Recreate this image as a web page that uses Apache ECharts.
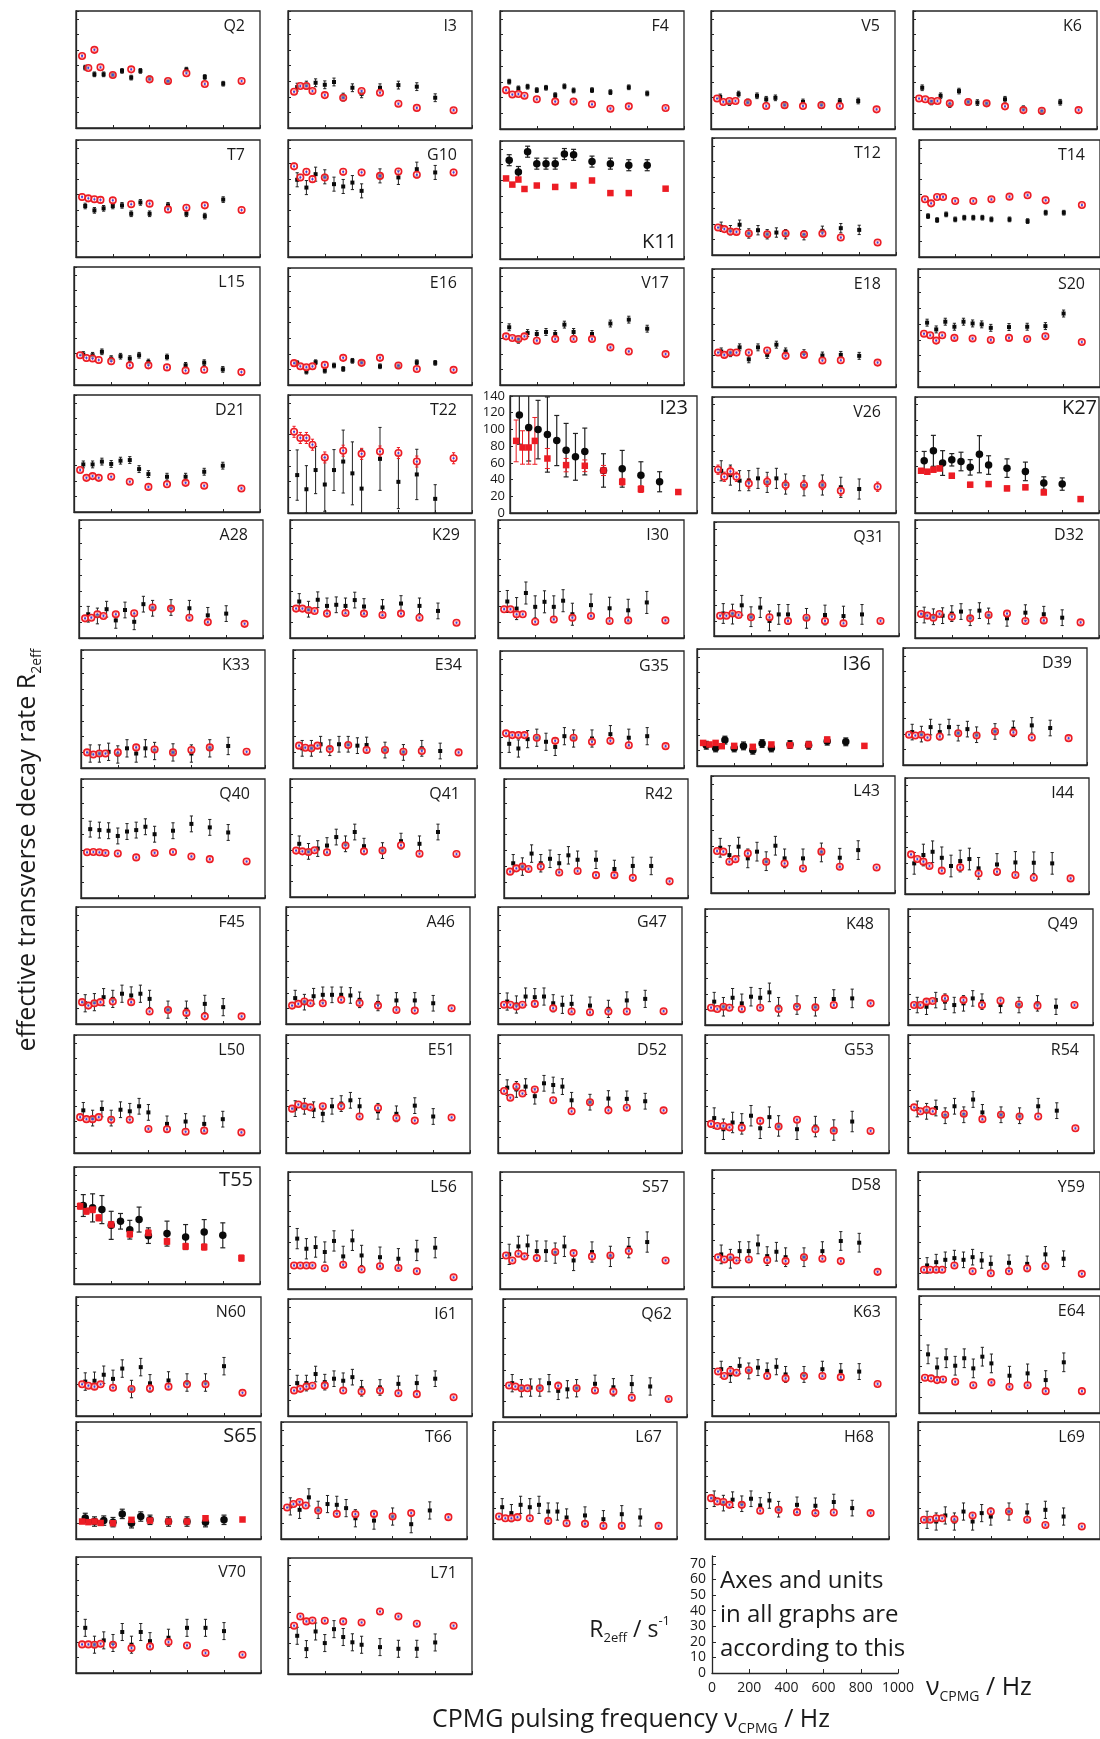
<!DOCTYPE html>
<html><head><meta charset="utf-8">
<script src="https://cdn.jsdelivr.net/npm/echarts@6/dist/echarts.min.js"></script>
<style>html,body{margin:0;padding:0;background:#fff}#c{width:1100px;height:1739px}</style>
</head><body><div id="c"></div>
<script>
// ---------------- DATA ----------------
const freqBlack = [50,100,150,200,250,300,350,400,500,600,700,800];
const freqRed   = [33,67,100,133,200,300,400,500,600,700,900];
const residues = ['Q2','I3','F4','V5','K6','T7','G10','K11','T12','T14','L15','E16','V17','E18','S20',
 'D21','T22','I23','V26','K27','A28','K29','I30','Q31','D32','K33','E34','G35','I36','D39',
 'Q40','Q41','R42','L43','I44','F45','A46','G47','K48','Q49','L50','E51','D52','G53','R54',
 'T55','L56','S57','D58','Y59','N60','I61','Q62','K63','E64','S65','T66','L67','H68','L69','V70','L71'];
const boldResidues = ['K11','I23','K27','I36','T55','S65'];
const blackR2 = [
 [38.7,34.4,34.4,34.0,36.6,32.3,36.6,31.8,29.7,37.4,32.7,28.4],
 [26.2,27.5,29.0,27.7,29.5,19.8,25.8,21.9,25.8,27.5,26.5,19.4],
 [30.1,25.8,26.9,24.7,26.2,21.5,27.1,24.5,24.7,23.4,26.5,22.6],
 [20.4,16.8,22.2,17.2,21.1,18.9,19.8,15.5,17.2,15.5,17.6,17.8],
 [26.2,17.2,21.1,15.5,24.1,17.2,16.8,16.1,18.9,12.9,11.2,17.0],
 [32.7,29.9,31.2,32.7,33.1,27.7,35.0,27.7,33.1,27.7,26.2,36.8],
 [49.5,44.5,53.1,51.4,46.7,45.2,47.7,42.4,52.0,51.0,56.3,54.2],
 [62.8,55.3,68.2,60.6,60.6,60.6,66.7,66.2,61.9,60.6,59.6,59.6],
 [18.1,15.9,19.4,13.8,15.9,13.3,14.4,13.3,12.7,15.5,17.2,16.1],
 [26.2,23.7,27.3,24.1,25.2,25.2,25.2,24.1,24.1,23.0,28.4,28.4],
 [19.4,18.9,21.1,16.8,18.3,16.8,18.9,14.6,17.8,12.5,14.2,9.9],
 [14.0,8.6,14.6,9.2,12.5,10.3,15.5,14.6,12.0,12.0,14.6,14.2],
 [37.0,29.0,33.3,32.7,34.0,32.7,38.7,34.0,32.7,39.4,41.9,36.1],
 [22.6,21.5,25.2,17.6,25.2,20.4,26.9,22.6,21.5,20.0,20.4,19.8],
 [40.9,36.6,41.5,38.3,41.5,40.4,39.8,37.6,38.1,38.3,38.7,46.7],
 [30.5,30.5,32.3,30.8,32.9,33.3,27.5,24.3,22.6,22.6,25.8,29.7],
 [24.1,15.1,27.3,18.1,27.3,32.7,25.2,15.5,34.4,19.8,24.5,9.0],
 [117.3,102.2,99.8,93.9,86.7,75.2,67.2,73.6,50.9,52.9,45.3,37.4],
 [27.3,24.5,20.9,20.9,22.4,19.8,22.4,18.7,17.6,18.1,16.6,15.5],
 [33.8,40.2,32.3,34.4,33.3,29.5,38.0,31.0,29.0,26.9,19.4,18.7],
 [15.1,14.0,18.3,11.2,17.8,10.3,21.5,18.9,19.4,18.9,14.4,15.5],
 [23.2,18.3,24.3,20.4,21.1,20.4,24.1,20.0,19.4,21.9,20.4,17.2],
 [23.2,18.7,28.6,19.8,23.0,19.8,23.7,15.1,20.9,18.9,17.6,22.6],
 [14.8,14.4,20.2,12.7,18.7,9.9,14.2,14.2,11.6,13.8,13.1,14.2],
 [14.6,13.5,14.2,15.5,16.8,12.9,17.4,14.0,12.5,16.1,15.1,12.9],
 [9.2,9.2,10.3,8.6,12.5,9.2,12.5,10.8,9.9,9.2,12.5,14.0],
 [12.5,12.5,15.1,12.9,15.1,15.1,14.2,14.6,11.4,9.9,12.5,10.8],
 [15.5,12.5,18.5,19.4,16.8,13.5,20.4,18.9,18.9,21.7,19.4,20.4],
 [13.3,11.6,16.6,11.6,12.9,10.1,14.4,11.6,13.8,13.3,15.9,15.5],
 [21.1,19.8,24.3,21.1,24.3,20.4,23.0,19.4,21.5,23.2,25.4,23.7],
 [43.4,42.8,42.4,39.1,41.9,42.8,44.9,40.2,42.4,46.7,44.5,41.3],
 [33.8,29.0,30.8,32.7,38.1,33.8,41.3,32.3,29.5,35.5,33.8,41.3],
 [21.9,19.8,28.0,21.9,24.7,21.9,26.9,24.1,24.1,18.3,20.2,20.2],
 [29.0,24.3,29.7,22.2,26.5,20.4,30.3,22.2,22.2,26.0,22.6,27.5],
 [19.8,25.2,27.3,23.4,18.1,21.3,22.6,16.6,19.1,20.4,20.2,19.8],
 [13.3,14.0,17.2,16.1,19.4,18.3,19.4,16.1,9.2,9.2,12.9,10.8],
 [16.6,14.0,17.8,18.7,18.7,18.7,18.3,15.5,13.5,15.1,15.1,13.3],
 [14.4,12.5,17.6,17.2,17.6,13.3,12.3,12.9,11.8,9.7,15.1,16.1],
 [15.1,11.8,17.6,14.0,18.3,17.6,21.1,11.8,12.9,11.8,16.8,17.2],
 [12.9,11.8,16.1,15.1,12.9,14.0,17.2,15.1,12.9,12.9,14.0,11.8],
 [27.1,22.2,28.0,22.2,27.5,26.5,29.7,25.8,18.5,20.0,18.5,21.5],
 [28.2,29.7,27.5,24.9,29.7,31.4,33.5,29.7,26.5,24.9,30.1,23.2],
 [41.5,40.4,42.2,36.1,44.3,43.2,42.2,33.5,32.3,34.6,34.4,32.9],
 [22.2,15.1,19.4,18.5,23.7,15.7,22.8,17.2,15.1,16.8,14.6,20.0],
 [28.0,26.5,28.6,23.7,29.7,24.3,34.0,25.8,24.3,23.7,29.7,26.9],
 [50.3,48.8,47.7,37.6,40.2,34.8,41.3,31.0,32.3,30.1,33.3,31.2],
 [32.3,25.8,26.9,23.7,30.8,20.9,31.2,21.5,20.4,19.4,24.7,26.5],
 [22.2,27.3,28.0,24.3,24.3,23.0,27.3,18.3,23.7,20.9,26.5,30.1],
 [20.9,18.1,23.0,23.0,27.3,19.8,22.6,19.1,19.1,23.0,29.5,28.4],
 [15.1,17.2,18.7,19.8,18.7,20.4,18.3,16.1,16.8,16.1,22.2,19.4],
 [21.7,22.2,26.0,23.4,29.9,17.0,30.8,20.6,22.4,21.1,21.1,31.4],
 [21.1,21.1,26.9,21.7,23.9,22.6,24.9,17.8,18.3,20.6,21.1,23.9],
 [21.5,18.3,18.7,18.7,21.5,16.6,17.6,18.3,21.1,18.9,20.9,19.4],
 [29.5,26.2,31.6,28.4,30.5,28.4,31.0,26.2,26.2,29.5,28.0,28.0],
 [37.6,29.2,35.1,30.3,35.1,28.6,36.1,31.8,23.9,25.4,21.1,32.5],
 [13.5,11.2,11.8,10.8,16.1,10.1,14.4,12.3,11.2,11.2,10.8,12.3],
 [20.9,18.7,26.7,18.7,22.4,21.9,19.8,13.3,11.8,14.4,9.5,18.3],
 [20.4,16.6,21.9,20.4,21.9,17.6,17.6,13.8,15.1,12.7,15.9,13.8],
 [25.8,23.0,25.2,22.6,25.8,21.5,24.7,19.1,21.9,21.3,23.7,19.8],
 [12.3,11.2,15.1,11.2,17.6,11.2,16.6,14.4,17.6,17.0,18.7,14.4],
 [29.2,18.3,21.1,19.4,26.5,18.3,26.5,20.6,22.8,29.2,29.2,27.1],
 [24.7,16.1,27.5,20.0,29.0,23.9,20.5,18.9,17.4,16.3,16.3,20.4]
];
const redR2 = [
 [46.2,38.5,50.1,38.9,34.0,37.6,31.2,30.1,35.1,28.2,30.1],
 [23.2,26.9,26.9,23.7,21.1,19.4,23.7,22.6,15.5,12.9,11.4],
 [24.7,21.9,22.2,21.1,18.9,17.4,17.4,15.7,12.9,14.4,13.3],
 [19.4,17.2,17.8,17.8,16.8,14.6,15.1,14.6,15.1,14.6,12.5],
 [19.4,18.9,17.8,17.8,16.3,17.2,16.3,14.4,12.0,11.6,12.0],
 [38.5,37.6,37.0,36.6,36.3,33.8,34.2,30.5,31.6,33.1,30.1],
 [58.1,51.0,54.6,49.9,51.0,54.6,54.2,52.0,54.8,52.7,54.2],
 [51.2,47.3,50.5,44.5,46.7,45.8,46.7,49.9,41.9,41.9,44.7],
 [17.6,16.6,15.1,14.8,13.8,13.3,13.8,13.3,13.8,11.2,8.0],
 [37.0,34.4,38.5,38.5,35.9,35.9,37.0,38.7,39.6,36.3,33.3],
 [18.9,17.2,16.8,15.9,15.1,12.5,12.5,11.2,9.2,9.7,8.2],
 [14.0,12.0,11.4,12.0,12.9,17.4,14.2,17.4,12.5,10.3,9.7],
 [31.2,30.1,29.5,31.2,28.4,29.5,29.5,29.5,24.1,21.5,19.8],
 [21.9,20.4,21.9,21.9,21.9,23.2,19.8,20.4,16.8,17.0,15.5],
 [33.8,32.9,29.5,32.9,31.2,30.8,29.9,31.2,30.5,32.3,28.6],
 [26.9,21.9,23.0,21.9,22.6,19.4,16.1,17.8,18.7,16.8,15.1],
 [51.6,47.7,47.7,43.4,35.3,39.6,37.6,39.1,38.1,32.7,34.8],
 [86.3,78.4,78.4,86.3,65.2,57.3,56.5,50.9,37.4,28.6,25.1],
 [28.0,23.4,26.9,23.4,19.1,20.2,18.1,18.1,18.1,14.4,17.0],
 [27.3,26.7,28.0,28.8,24.1,18.3,18.7,15.9,16.6,13.3,9.0],
 [12.5,12.9,15.1,14.0,15.1,15.7,19.4,18.7,12.9,10.1,9.0],
 [18.7,18.7,17.8,17.2,15.5,15.9,15.5,14.6,15.5,12.9,9.7],
 [18.3,18.3,15.1,15.1,10.3,11.8,12.9,14.0,10.8,11.2,11.2],
 [13.3,13.3,14.8,13.8,12.3,12.3,9.9,12.0,9.9,8.4,9.9],
 [15.3,14.2,12.9,15.3,13.5,12.5,14.6,15.5,10.8,11.2,9.9],
 [9.9,8.6,9.2,9.2,9.9,13.1,11.8,9.9,11.4,13.1,10.3],
 [14.2,12.9,12.5,14.2,12.0,14.6,11.4,11.4,10.3,10.8,9.9],
 [22.2,21.1,21.1,21.1,19.4,17.4,19.4,16.8,17.4,14.6,14.0],
 [14.8,13.8,14.8,12.7,12.9,12.3,13.8,13.3,13.8,17.0,12.9],
 [19.4,18.9,19.4,17.6,18.3,20.4,18.9,21.5,20.9,17.6,17.2],
 [28.8,29.0,28.8,28.4,28.0,25.6,28.4,29.0,26.2,24.5,23.0],
 [29.5,29.0,28.6,29.7,28.4,32.7,29.0,29.5,32.9,27.5,27.3],
 [16.6,18.7,19.8,18.3,19.8,16.1,17.0,14.4,14.4,12.7,10.5],
 [26.9,26.5,20.0,21.7,25.4,20.0,18.9,15.7,26.5,16.8,16.3],
 [25.6,22.6,20.9,18.1,15.1,17.2,13.3,14.4,12.3,10.5,10.1],
 [14.0,11.8,13.3,14.0,14.4,14.0,8.0,9.0,7.1,4.9,4.9],
 [11.8,12.9,14.4,13.3,13.3,15.5,13.5,11.8,9.0,8.6,10.1],
 [12.3,12.3,11.2,12.3,12.9,10.1,8.0,7.5,8.0,8.0,8.2],
 [11.2,10.3,11.8,11.2,10.3,11.2,10.3,11.8,11.4,12.9,14.0],
 [12.9,12.9,15.1,15.5,17.2,16.1,12.9,15.7,13.3,12.5,12.9],
 [22.8,21.5,21.5,22.8,21.1,21.1,15.3,15.1,13.5,14.2,13.1],
 [28.2,30.8,29.7,29.0,29.7,29.7,23.2,28.6,22.2,20.6,22.6],
 [39.4,35.1,42.2,37.8,40.4,33.5,26.5,32.3,27.1,28.8,27.1],
 [18.5,17.2,17.2,16.3,16.1,20.4,16.8,21.1,15.1,14.2,14.0],
 [29.0,26.5,27.5,26.5,24.3,24.9,21.5,24.3,23.2,23.2,15.7],
 [49.9,46.7,47.7,42.4,38.1,32.0,32.7,27.3,24.1,23.7,16.6],
 [15.1,15.1,15.1,15.1,13.3,15.5,12.5,14.6,13.5,11.4,7.5],
 [21.5,18.3,22.6,20.9,19.8,23.7,23.0,20.9,21.5,24.3,18.3],
 [19.1,17.6,19.1,17.0,17.6,17.2,16.6,19.1,18.1,16.6,9.7],
 [12.3,12.3,12.3,12.3,15.1,11.4,10.1,11.4,13.3,14.6,9.7],
 [20.0,19.1,18.5,20.0,17.8,17.0,17.4,18.5,20.0,20.0,14.6],
 [16.3,17.4,18.9,19.4,19.6,16.3,15.7,16.3,14.6,14.0,12.0],
 [20.0,19.4,18.3,18.3,18.3,19.8,18.3,16.8,16.1,12.3,11.4],
 [28.0,25.2,28.4,27.3,28.8,25.2,23.7,25.2,25.2,24.5,20.2],
 [22.6,22.2,21.1,21.5,20.0,17.8,19.6,16.8,17.8,14.0,14.0],
 [11.2,10.8,11.2,10.3,10.1,12.3,11.8,11.2,11.2,13.3,12.5],
 [20.2,22.4,23.7,21.5,18.3,16.1,15.9,16.1,14.4,16.6,14.0],
 [14.4,13.3,13.3,14.0,13.3,11.6,10.1,9.7,8.4,8.4,8.4],
 [26.2,24.1,23.7,21.9,21.9,18.1,18.7,17.2,16.6,17.0,16.6],
 [12.3,12.3,13.3,13.3,12.7,15.1,17.6,17.6,12.3,9.0,8.0],
 [18.5,18.5,18.3,18.9,18.3,16.1,17.2,20.0,17.8,12.9,11.8],
 [31.2,37.2,34.0,34.6,34.4,34.0,33.3,40.4,37.2,32.5,31.2]
];
// error half-widths (one number for a whole panel, or one value per point)
const blackErr = [1.5,2.5,1.5,1.8,1.8,1.8,4.5,3.5,3,1.5,1.8,1.5,2.2,2.2,2.2,2.2,
 [16,15,15,17,13,20,20,25,20,17,16,9],
 [35,40,35,45,30,32,28,28,20,22,16,12],
 6.5,[6,10,8,4,6,5,12,6,6,6,4,4],5,5,7,6.5,5,5.5,5,5.5,2.5,5,5,5,5.5,6,7,5.5,5,5.5,6,5,5,5,5,6.5,5,
 [7,9,9,9,5,6,8,5,8,8,8,8],6.5,6.5,6,5,5.5,5,5.5,5,6,3,5.5,5.5,5,5.5,5.5,5.5];
const redErr = [1,1,1,1,1,1.8,2,1,1,1,1.8,1.2,1,1,1,1,3.5,
 [25,20,20,28,12,8,7,6,4,4,3],3,1.5,1,1,1,1,1,1,1,1,1,1,1,1,1,1,1,1,1,1,1,1,1,1,1,1,1,
 2,1,1,1,1,1,1,1,1,1,1,1,1,1,1,1,1];
const i23YTicks = [0,20,40,60,80,100,120,140];
const legendYTicks = [0,10,20,30,40,50,60,70];
const legendXTicks = [0,200,400,600,800,1000];

// ---------------- LAYOUT (px boxes of each panel: left, top, width, height) ----------------
const layout = [
[76,11,184,117],[288,11,184,117],[500,11,184,118],[711,11,184,118],[913,11,184,118],
[76,140,184,117],[288,140,184,117],[500,141,184,118],[712,138,184,117],[919,140,181,117],
[74,267,186,118],[288,268,184,117],[500,268,184,117],[712,269,184,118],[918,269,182,118],
[74,395,186,117],[288,395,184,118],[510,396,187,117],[712,397,184,116],[915,397,184,116],
[79,520,184,118],[290,520,185,118],[498,520,186,118],[714,522,185,114],[915,520,184,118],
[81,650,184,118],[293,650,184,118],[500,651,184,117],[697,649,186,117],[903,648,184,117],
[81,779,184,119],[290,779,185,118],[504,779,184,119],[711,776,184,117],[905,778,184,116],
[76,907,184,117],[286,907,184,117],[498,907,184,117],[705,909,184,116],[908,909,185,116],
[74,1035,186,118],[286,1035,184,118],[498,1035,184,118],[705,1035,184,118],[908,1035,186,118],
[74,1167,186,117],[288,1172,184,117],[500,1172,184,117],[712,1170,184,117],[918,1172,182,117],
[76,1297,185,119],[288,1299,184,117],[503,1299,184,118],[712,1297,184,119],[919,1296,181,117],
[76,1422,185,117],[281,1422,186,117],[493,1422,184,117],[705,1422,184,117],[918,1422,182,117],
[76,1557,185,116],[288,1558,184,116]
];
const legendBox = [712,1556,186,117];
// label placement for the larger labels: [rightInset, centerOffset, fromBottom]
const boldLabelPos = {K11:[7,17,true], I23:[9,12,false], K27:[2,11,false], I36:[12,15,false], T55:[7,13,false], S65:[4,14,false]};

// ---------------- BUILD ----------------
const NARROW = "'Liberation Sans Narrow','Open Sans',sans-serif";
const SANS = "'Open Sans','Liberation Sans',sans-serif";
const INK = '#1a1a1a', RED = '#ec1c24', BLUE = '#3a44e6';

const option = {animation:false, backgroundColor:'#ffffff', grid:[], xAxis:[], yAxis:[], series:[], graphic:[]};

function errSeries(gi, data, color, capHalf, ymax, lw){
  return {type:'custom', xAxisIndex:gi, yAxisIndex:gi, silent:true, data:data, encode:{x:0,y:1}, z:2,
    renderItem:function(params, api){
      const x=api.value(0), y=api.value(1), e=api.value(2);
      if(!(e>0)) return {type:'group', children:[]};
      const yt=Math.min(y+e,ymax), yb=Math.max(y-e,0);
      const p1=api.coord([x,yt]), p2=api.coord([x,yb]);
      const st={stroke:color, lineWidth:lw};
      const ch=[{type:'line', shape:{x1:p1[0],y1:p1[1],x2:p2[0],y2:p2[1]}, style:st}];
      if(y+e<=ymax) ch.push({type:'line', shape:{x1:p1[0]-capHalf,y1:p1[1],x2:p1[0]+capHalf,y2:p1[1]}, style:st});
      if(y-e>=0) ch.push({type:'line', shape:{x1:p2[0]-capHalf,y1:p2[1],x2:p2[0]+capHalf,y2:p2[1]}, style:st});
      return {type:'group', children:ch};
    }};
}
function errOf(spec, j){ return Array.isArray(spec) ? spec[j] : spec; }

residues.forEach(function(name, i){
  const b = layout[i];
  const bold = boldResidues.indexOf(name) >= 0;
  const isI23 = name === 'I23';
  const ymax = isI23 ? 140 : 75;
  option.grid.push({left:b[0], top:b[1], width:b[2], height:b[3], show:true, borderColor:'#262626', borderWidth:1.3,
    backgroundColor:'transparent', containLabel:false, outerBoundsMode:'none'});
  option.xAxis.push({gridIndex:i, type:'value', min:0, max:1000, interval:200,
    axisLine:{show:true, onZero:false, lineStyle:{color:'#262626', width:1.3}},
    axisTick:{show:true, inside:true, length:3, lineStyle:{color:'#262626', width:1}},
    axisLabel:{show:false}, splitLine:{show:false}});
  option.yAxis.push({gridIndex:i, type:'value', min:0, max:ymax, interval:isI23?20:10,
    axisLine:{show:true, onZero:false, lineStyle:{color:'#262626', width:1.3}},
    axisTick:{show:true, inside:true, length:3, lineStyle:{color:'#262626', width:1}},
    axisLabel:{show:isI23, fontSize:13, fontFamily:NARROW, color:INK, margin:5,
      formatter:function(v){ return i23YTicks.indexOf(v)>=0 ? String(v) : ''; }},
    splitLine:{show:false}});

  const bData = freqBlack.map(function(f,j){ return [f, blackR2[i][j], errOf(blackErr[i], j)]; });
  const rData = freqRed.map(function(f,j){ return [f, redR2[i][j], errOf(redErr[i], j)]; });

  option.series.push(errSeries(i, bData, '#222', bold?2.5:1.6, ymax, bold?1.2:1));
  option.series.push({type:'scatter', xAxisIndex:i, yAxisIndex:i, silent:true, z:3,
    symbol: bold ? 'circle' : 'rect', symbolSize: bold ? 7.5 : 4,
    itemStyle:{color:'#0a0a0a', opacity:1}, data:bData.map(function(d){return [d[0],d[1]];})});
  option.series.push(errSeries(i, rData, RED, bold?2.5:1.6, ymax, 1));
  if(bold){
    option.series.push({type:'scatter', xAxisIndex:i, yAxisIndex:i, silent:true, z:4,
      symbol:'rect', symbolSize:6.5, itemStyle:{color:RED, opacity:1},
      data:rData.map(function(d){return [d[0],d[1]];})});
  } else {
    option.series.push({type:'scatter', xAxisIndex:i, yAxisIndex:i, silent:true, z:4,
      symbol:'circle', symbolSize:6.5, itemStyle:{color:'rgba(255,235,238,0.55)', borderColor:RED, borderWidth:1.6, opacity:1},
      data:rData.map(function(d){return [d[0],d[1]];})});
    option.series.push({type:'scatter', xAxisIndex:i, yAxisIndex:i, silent:true, z:5,
      symbol:'circle', symbolSize:2.2, itemStyle:{color:BLUE, opacity:1},
      data:rData.map(function(d){return [d[0],d[1]];})});
  }

  // panel label
  let inset = 15, yy = b[1] + 15, fs = 16;
  if(bold){
    const p = boldLabelPos[name];
    inset = p[0]; fs = 20;
    yy = p[2] ? b[1] + b[3] - p[1] : b[1] + p[1];
  }
  option.graphic.push({type:'text', x:b[0]+b[2]-inset, y:yy, silent:true, z:10,
    style:{text:name, fill:INK, fontSize:fs, fontFamily:NARROW, align:'right', verticalAlign:'middle',
      textAlign:'right', textVerticalAlign:'middle'}});
});

// legend axis panel
const L = residues.length;
option.grid.push({left:legendBox[0], top:legendBox[1], width:legendBox[2], height:legendBox[3], show:false, containLabel:false, outerBoundsMode:'none'});
option.xAxis.push({gridIndex:L, type:'value', min:0, max:1000, interval:200,
  axisLine:{show:true, onZero:false, lineStyle:{color:'#262626', width:1.3}},
  axisTick:{show:true, inside:true, length:4, lineStyle:{color:'#262626'}},
  axisLabel:{show:true, fontSize:14, fontFamily:NARROW, color:INK, margin:8,
    formatter:function(v){ return legendXTicks.indexOf(v)>=0 ? String(v) : ''; }},
  splitLine:{show:false}});
option.yAxis.push({gridIndex:L, type:'value', min:0, max:75, interval:10,
  axisLine:{show:true, onZero:false, lineStyle:{color:'#262626', width:1.3}},
  axisTick:{show:true, inside:true, length:4, lineStyle:{color:'#262626'}},
  axisLabel:{show:true, fontSize:14, fontFamily:NARROW, color:INK, margin:6,
    formatter:function(v){ return legendYTicks.indexOf(v)>=0 ? String(v) : ''; }},
  splitLine:{show:false}});

function richText(x, y, text, rich, align, rot){
  return {type:'text', x:x, y:y, rotation:rot||0, silent:true, z:10,
    style:{text:text, rich:rich, fill:INK, align:align, verticalAlign:'middle', textAlign:align, textVerticalAlign:'middle'}};
}
// y-axis title
option.graphic.push(richText(28, 850, '{m|effective transverse decay rate R}{s|2eff}', {
  m:{fontSize:25, fontFamily:SANS, lineHeight:32, verticalAlign:'middle', color:INK},
  s:{fontSize:14, fontFamily:SANS, lineHeight:14, verticalAlign:'bottom', color:INK}
}, 'center', Math.PI/2));
// x-axis title
option.graphic.push(richText(631, 1720, '{m|CPMG pulsing frequency ν}{s|CPMG}{m| / Hz}', {
  m:{fontSize:25, fontFamily:SANS, lineHeight:32, verticalAlign:'middle', color:INK},
  s:{fontSize:14, fontFamily:SANS, lineHeight:14, verticalAlign:'bottom', color:INK}
}, 'center'));
// legend texts
option.graphic.push(richText(670, 1630, '{m|R}{s|2eff}{m| / s}{p|-1}', {
  m:{fontSize:23, fontFamily:SANS, lineHeight:30, verticalAlign:'middle', color:INK},
  s:{fontSize:13, fontFamily:SANS, lineHeight:13, verticalAlign:'bottom', color:INK},
  p:{fontSize:13, fontFamily:SANS, lineHeight:13, verticalAlign:'top', color:INK}
}, 'right'));
option.graphic.push(richText(926, 1688, '{m|ν}{s|CPMG}{m| / Hz}', {
  m:{fontSize:25, fontFamily:SANS, lineHeight:32, verticalAlign:'middle', color:INK},
  s:{fontSize:14, fontFamily:SANS, lineHeight:14, verticalAlign:'bottom', color:INK}
}, 'left'));
['Axes and units','in all graphs are','according to this'].forEach(function(t, k){
  option.graphic.push({type:'text', x:720, y:1581 + k*34, silent:true, z:10,
    style:{text:t, fill:INK, fontSize:24, fontFamily:SANS, align:'left', verticalAlign:'middle', textAlign:'left', textVerticalAlign:'middle'}});
});

const chart = echarts.init(document.getElementById('c'), null, {renderer:'canvas', width:1100, height:1739});
chart.setOption(option);
</script>
</body></html>
